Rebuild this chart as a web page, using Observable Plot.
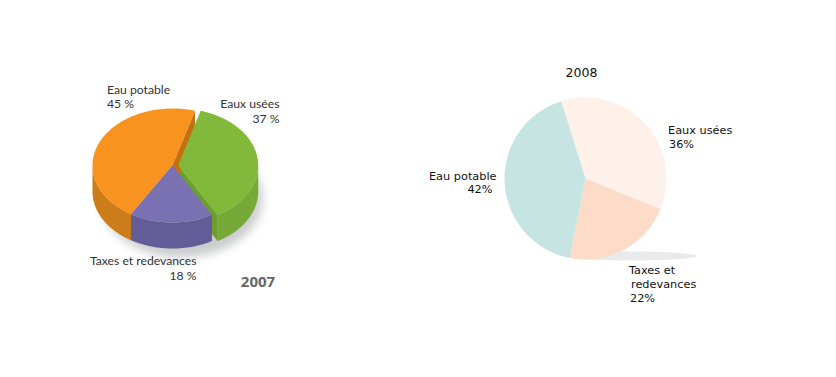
<!DOCTYPE html>
<html>
<head>
<meta charset="utf-8">
<script src="https://cdn.jsdelivr.net/npm/d3@7"></script>
<script src="https://cdn.jsdelivr.net/npm/@observablehq/plot@0.6"></script>
<style>
html,body{margin:0;padding:0;background:#fff}
svg{display:block}
</style>
</head>
<body>
<div id="chart"></div>
<script>
// ---- data ----
const categories2007 = ["Eaux usées", "Taxes et redevances", "Eau potable"];
const values2007 = [37, 18, 45];
const categories2008 = ["Eaux usées", "Taxes et redevances", "Eau potable"];
const values2008 = [36, 22, 42];
const topColors2007 = ["#82B93B", "#7A71B3", "#F9931F"];
const sideColors2007 = ["#76A938", "#635C98", "#CC7C18"];
const wallColors2007 = ["#6B9E2F", null, "#C4700F"];
const colors2008 = ["#FEF1E9", "#FCDCC9", "#C6E5E2"];

const text2007 = [
  {t: "Eau potable", x: 106.5, y: 90, a: "start"},
  {t: "45 %", x: 106.5, y: 104, a: "start"},
  {t: "Eaux usées", x: 279, y: 104, a: "end"},
  {t: "37 %", x: 279, y: 119, a: "end"},
  {t: "Taxes et redevances", x: 196, y: 261, a: "end"},
  {t: "18 %", x: 196, y: 276, a: "end"}
];
const text2008 = [
  {t: "Eaux usées", x: 667.5, y: 130, a: "start"},
  {t: "36%", x: 668.5, y: 144, a: "start"},
  {t: "Eau potable", x: 496, y: 176, a: "end"},
  {t: "42%", x: 492, y: 189, a: "end"},
  {t: "Taxes et", x: 628.5, y: 270, a: "start"},
  {t: "redevances", x: 630.5, y: 284, a: "start"},
  {t: "22%", x: 629.5, y: 298, a: "start"}
];

// ---- layout ----
const pie3d = {cx: 172, cy: 165, rx: 80, ry: 57, depth: 26, start: 15.3, perspective: 0.065, explode: [5.7, 0, 0]};
const pie2d = {cx: 585, cy: 178, r: 81, start: -17.5};
const rad = d => d * Math.PI / 180;
const deg = r => r * 180 / Math.PI;

function spans(values, start) {
  let a = start;
  const total = d3.sum(values);
  return values.map(v => { const s = a; a += v / total * 360; return [s, a]; });
}
function arcPts(cx, cy, rx, ry, a0, a1) {
  const n = Math.max(2, Math.ceil(Math.abs(a1 - a0)));
  return d3.range(n + 1).map(i => {
    const a = rad(a0 + (a1 - a0) * i / n);
    return [cx + rx * Math.sin(a), cy - ry * Math.cos(a)];
  });
}
const poly = (pts, fill, extra = {}) => Plot.line(pts, {x: d => d[0], y: d => d[1], fill, stroke: "none", ...extra});

const marks = [];

// 2007 drop shadow
marks.push(poly(arcPts(pie3d.cx + 9, pie3d.cy + 33, pie3d.rx + 1, pie3d.ry + 2, 0, 360), "#aeb0b2", {imageFilter: "blur(5px)", fillOpacity: 0.65}));

// the 3D pie is seen in perspective: the front of the disc is slightly foreshortened in angle
const foreshorten = a => a - deg(pie3d.perspective * Math.sin(rad(a - 180)));
const s07 = spans(values2007, pie3d.start).map(s => s.map(foreshorten));
const cxOf = i => pie3d.cx + pie3d.explode[i];
const {cy: cy3, rx: rx3, ry: ry3, depth: depth3} = pie3d;

// outer rim of each 2007 slice (only the front half shows)
const rimOf = i => {
  const a0 = Math.max(s07[i][0], 90), a1 = Math.min(s07[i][1], 270);
  return [...arcPts(cxOf(i), cy3, rx3, ry3, a0, a1), ...arcPts(cxOf(i), cy3 + depth3, rx3, ry3, a1, a0)];
};
// cut face of a slice from its centre to the rim at angle a
const wallOf = (i, a) => {
  const p = arcPts(cxOf(i), cy3, rx3, ry3, a, a)[0];
  return [[cxOf(i), cy3], p, [p[0], p[1] + depth3], [cxOf(i), cy3 + depth3]];
};
const topFace = i => [[cxOf(i), cy3], ...arcPts(cxOf(i), cy3, rx3, ry3, s07[i][0], s07[i][1])];

marks.push(poly(rimOf(0), sideColors2007[0]));
marks.push(poly(wallOf(0, s07[0][1]), wallColors2007[0]));
marks.push(poly(rimOf(2), sideColors2007[2]));
marks.push(poly(wallOf(2, s07[2][1]), wallColors2007[2]));
marks.push(poly(rimOf(1), sideColors2007[1]));
marks.push(poly(topFace(2), topColors2007[2]));
marks.push(poly(topFace(1), topColors2007[1]));
marks.push(poly(topFace(0), topColors2007[0]));

// 2008 flat pie
marks.push(poly(arcPts(630, 255.5, 66, 4.5, 0, 360), "#E9EAEC"));
spans(values2008, pie2d.start).forEach((s, i) => {
  marks.push(poly([[pie2d.cx, pie2d.cy], ...arcPts(pie2d.cx, pie2d.cy, pie2d.r, pie2d.r, s[0], s[1])], colors2008[i]));
});

// labels
const labelMarks = (rows, font, size, fill) => ["start", "end"].map(a =>
  Plot.text(rows.filter(d => d.a === a), {x: "x", y: "y", text: "t", textAnchor: a, lineAnchor: "middle", fontFamily: font, fontSize: size, fill}));
marks.push(...labelMarks(text2007, "Lato", 12.2, "#333"));
marks.push(...labelMarks(text2008, "DejaVu Sans", 11.3, "#111"));
marks.push(Plot.text(["2007"], {x: 257.5, y: 282, text: d => d, fontFamily: "Open Sans", fontWeight: "bold", fontSize: 15, fill: "#666"}));
marks.push(Plot.text(["2008"], {x: 581, y: 72, text: d => d, fontFamily: "DejaVu Sans", fontSize: 12.5, fill: "#111"}));

const chart = Plot.plot({
  width: 836, height: 377,
  margin: 0,
  x: {domain: [0, 836], range: [0, 836], axis: null},
  y: {domain: [0, 377], range: [0, 377], axis: null},
  style: {background: "#fff"},
  marks
});
document.getElementById("chart").append(chart);
</script>
</body>
</html>
